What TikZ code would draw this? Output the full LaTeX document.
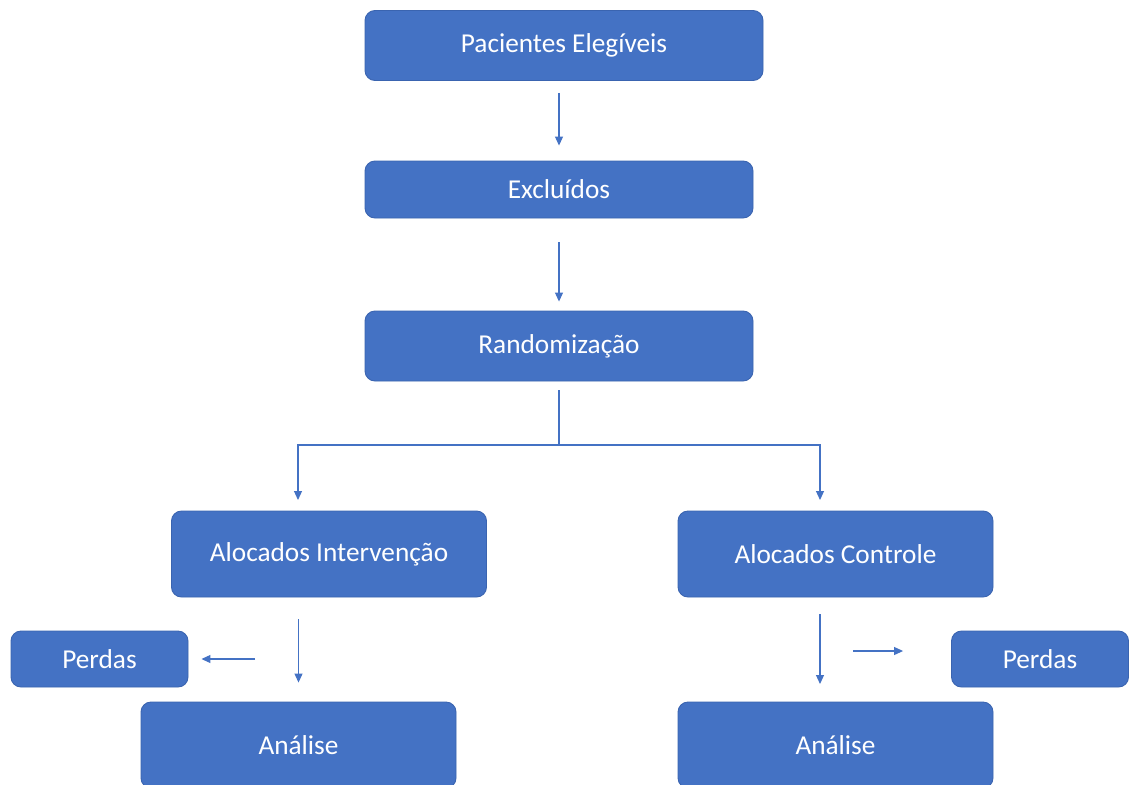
\documentclass[tikz,border=0pt]{standalone}
\usepackage{fontspec}
\setmainfont{Carlito}
\usetikzlibrary{arrows.meta}
\definecolor{boxblue}{HTML}{4472C4}
\definecolor{boxedge}{HTML}{3A64B0}
\tikzset{
  box/.style={draw=boxedge, line width=0.9pt, fill=boxblue, rounded corners=10pt,
    text=white, font=\fontsize{27.3}{32}\selectfont, inner sep=0pt, anchor=center},
  arr/.style={draw=boxblue, line width=1.1pt, -{Triangle[length=9pt,width=8pt]}},
  plain/.style={draw=boxblue, line width=1.1pt}
}
\begin{document}
\begin{tikzpicture}[x=1pt,y=-1pt]
\useasboundingbox (0,0) rectangle (1131,784);
\clip (0,0) rectangle (1131,784);
\fill[white] (0,0) rectangle (1131,784);
% boxes
\node[box, minimum width=398pt, minimum height=70pt] (pac) at (564,45.5) {Pacientes Elegíveis};
\node[box, minimum width=388pt, minimum height=57pt] (exc) at (559,189.5) {Excluídos};
\node[box, minimum width=388pt, minimum height=70pt] (rand) at (559,346) {Randomização};
\node[box, minimum width=315pt, minimum height=86pt] (aint) at (329,554) {Alocados Intervenção};
\node[box, minimum width=315pt, minimum height=86pt] (actrl) at (835.5,554) {Alocados Controle};
\node[box, minimum width=177pt, minimum height=56pt] (perd1) at (99.5,659) {Perdas};
\node[box, minimum width=177pt, minimum height=56pt] (perd2) at (1040,659) {Perdas};
\node[box, minimum width=315pt, minimum height=86pt] (ana1) at (298.5,745) {Análise};
\node[box, minimum width=315pt, minimum height=86pt] (ana2) at (835.5,745) {Análise};
% coordinates for free ends
\coordinate (split) at (559,445);
\coordinate (tl) at (298,500);
\coordinate (tr) at (820,500);
\coordinate (l0) at (298.5,619);
\coordinate (r0) at (820,614);
\coordinate (r1) at (820,684);
\coordinate (pl0) at (255,659);
\coordinate (pr0) at (853,651);
% connectors
\draw[arr, shorten <=12pt, shorten >=15pt] (exc.north |- pac.south) -- (exc.north);
\draw[arr, shorten <=24pt, shorten >=9pt] (exc.south) -- (rand.north);
\draw[arr, shorten <=9pt] (rand.south) -- (split) -| (tl);
\draw[arr] (split) -| (tr);
\draw[arr, shorten >=19pt] (l0) -- (ana1.north);
\draw[arr] (r0) -- (r1);
\draw[arr, shorten >=13pt] (pl0) -- (perd1.east);
\draw[arr, shorten >=48pt] (pr0) -- (perd2.west |- pr0);
\end{tikzpicture}
\end{document}
